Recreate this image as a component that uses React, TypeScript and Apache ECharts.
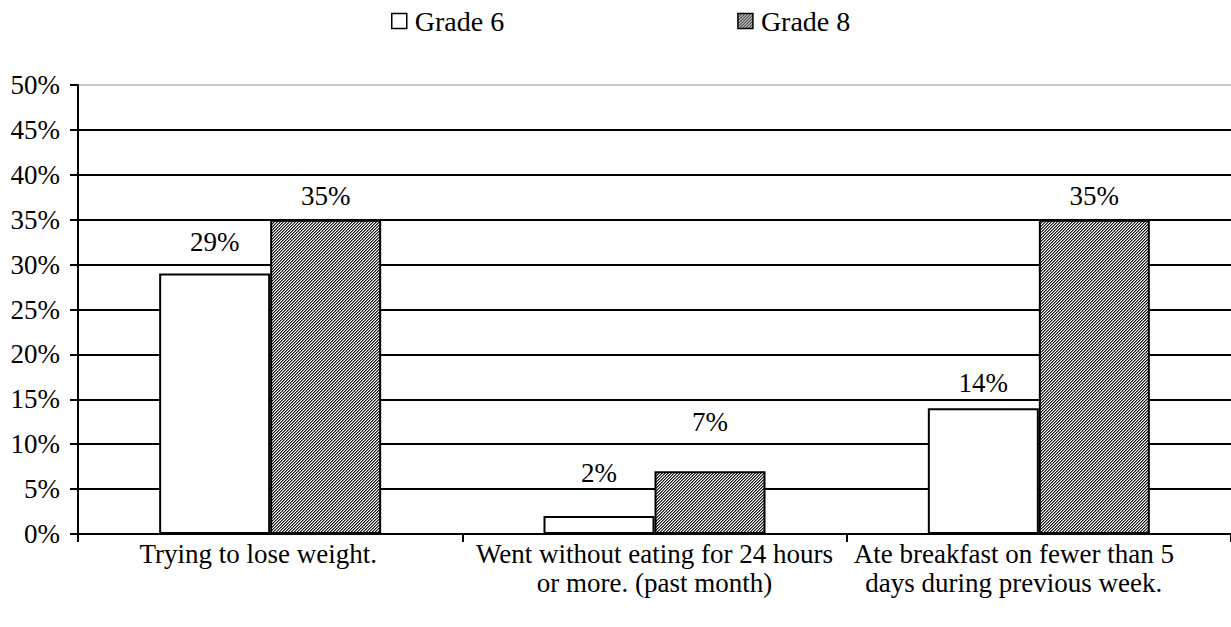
import React, { useEffect, useRef } from "react";
import * as echarts from "echarts";

const categories = [
  "Trying to lose weight.",
  "Went without eating for 24 hours\nor more. (past month)",
  "Ate breakfast on fewer than 5\ndays during previous week.",
];
const grade6 = [29, 2, 14];
const grade8 = [35, 7, 35];
const seriesNames = ["Grade 6", "Grade 8"];
// label distances above bar tops (as placed in the original)
const grade6LabelDist = [18, 30, 12];
const grade8LabelDist = [10, 36, 10];

const FONT = "Liberation Serif";
const FS = 27;

function makeHatch(): HTMLCanvasElement {
  const c = document.createElement("canvas");
  c.width = 6;
  c.height = 6;
  const ctx = c.getContext("2d")!;
  ctx.fillStyle = "#ffffff";
  ctx.fillRect(0, 0, 6, 6);
  for (let y = 0; y < 6; y++) {
    for (let x = 0; x < 6; x++) {
      const k = (x + y) % 3;
      if (k === 0) {
        ctx.fillStyle = "#1a1a1a";
        ctx.fillRect(x, y, 1, 1);
      } else if (k === 1) {
        ctx.fillStyle = "#808080";
        ctx.fillRect(x, y, 1, 1);
      }
    }
  }
  return c;
}

export default function App() {
  const ref = useRef<HTMLDivElement>(null);
  useEffect(() => {
    if (!ref.current) return;
    const chart = echarts.init(ref.current, null, { renderer: "svg" });
    const hatch = makeHatch();
    const hatchFill: any = { image: hatch, repeat: "repeat", imageWidth: 6, imageHeight: 6 };
    const gridColors = Array.from({ length: 11 }, (_, i) => (i === 10 ? "#c8c8c8" : "#000000"));
    chart.setOption({
      animation: false,
      backgroundColor: "#ffffff",
      textStyle: { fontFamily: FONT },
      legend: {
        left: 386,
        top: 2,
        itemGap: 233,
        itemWidth: 15,
        itemHeight: 15,
        icon: "rect",
        textStyle: { fontFamily: FONT, fontSize: 28, color: "#000", padding: [0, 0, 0, 3] },
        data: [
          { name: seriesNames[0], itemStyle: { color: "#fff", borderColor: "#000", borderWidth: 1.5 } },
          { name: seriesNames[1], itemStyle: { color: hatchFill, borderColor: "#000", borderWidth: 1.5 } },
        ],
      },
      grid: { left: 78, top: 85, width: 1158, height: 449, containLabel: false },
      xAxis: {
        type: "category",
        data: [
          { value: categories[0], textStyle: { padding: [0, 24, 0, 0] } },
          categories[1],
          { value: categories[2], textStyle: { padding: [0, 50, 0, 0] } },
        ],
        boundaryGap: true,
        axisLine: { lineStyle: { color: "#000", width: 2 } },
        axisTick: { show: true, length: 8, lineStyle: { color: "#000", width: 2 } },
        axisLabel: {
          interval: 0,
          margin: 5,
          fontFamily: FONT,
          fontSize: FS,
          color: "#000",
          lineHeight: 29,
        },
      },
      yAxis: {
        type: "value",
        min: 0,
        max: 50,
        interval: 5,
        axisLine: { show: true, lineStyle: { color: "#000", width: 2 } },
        axisTick: { show: true, length: 8, lineStyle: { color: "#000", width: 2 } },
        axisLabel: {
          formatter: "{value}%",
          margin: 18,
          fontFamily: FONT,
          fontSize: FS,
          color: "#000",
        },
        splitLine: { show: true, lineStyle: { color: gridColors, width: 2 } },
      },
      series: [
        {
          name: seriesNames[0],
          type: "bar",
          barWidth: 111,
          barGap: "0%",
          itemStyle: { color: "#fff", borderColor: "#000", borderWidth: 2 },
          data: grade6.map((v, i) => ({
            value: v,
            label: { distance: grade6LabelDist[i] },
          })),
          label: {
            show: true,
            position: "top",
            formatter: "{c}%",
            fontFamily: FONT,
            fontSize: FS,
            color: "#000",
          },
        },
        {
          name: seriesNames[1],
          type: "bar",
          barWidth: 111,
          barGap: "0%",
          itemStyle: { color: hatchFill, borderColor: "#000", borderWidth: 2 },
          data: grade8.map((v, i) => ({
            value: v,
            label: { distance: grade8LabelDist[i] },
          })),
          label: {
            show: true,
            position: "top",
            formatter: "{c}%",
            fontFamily: FONT,
            fontSize: FS,
            color: "#000",
          },
        },
      ],
    });
    return () => chart.dispose();
  }, []);
  return <div ref={ref} style={{ width: 1231, height: 627, position: "absolute", left: 0, top: 0 }} />;
}
